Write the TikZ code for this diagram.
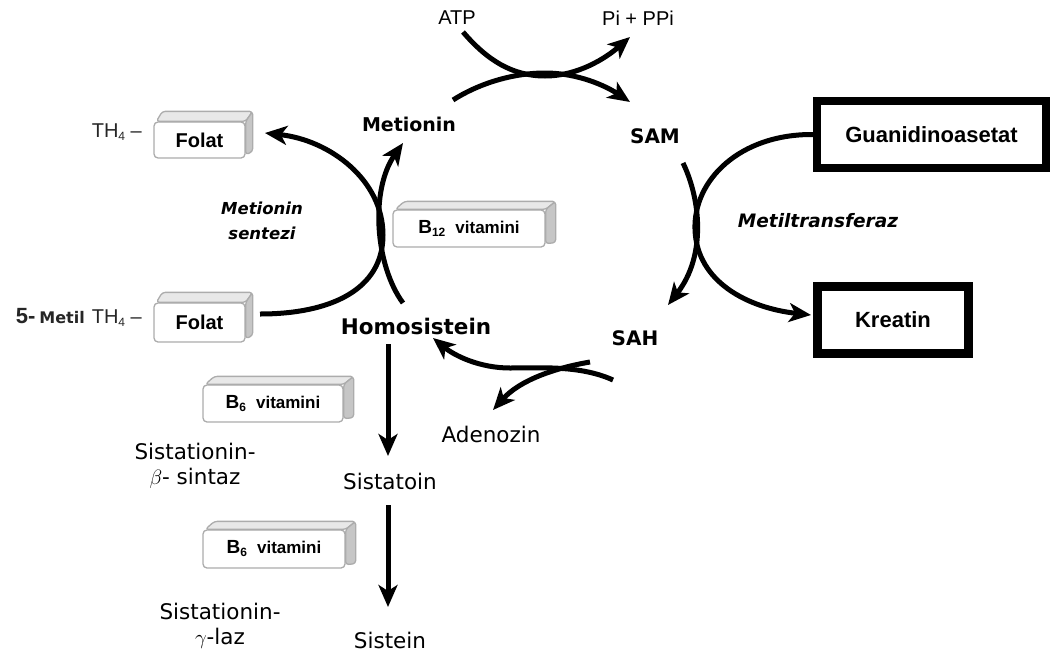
\documentclass[tikz,border=0pt]{standalone}
\usepackage{fontspec}
\setmainfont{DejaVu Sans}
\newfontfamily\ar{Liberation Sans}
\usetikzlibrary{arrows.meta}
\newcommand\subn[1]{\raisebox{-3pt}{\fontsize{12}{12}\selectfont #1}}
\newcommand\boxfaces[3]{%
  \draw[topf] ([xshift=3pt]#1.north west) -- ([shift={(#2+2,-#3)}]#1.north west) -- ([shift={(#2,-#3)}]#1.north east) -- (#1.north east) -- cycle;
  \draw[sidef] (#1.north east) -- ([shift={(#2,-#3)}]#1.north east) -- ([shift={(#2,-#3+3)}]#1.south east) -- ([yshift=4pt]#1.south east) -- cycle;
}
\tikzset{
  arr/.style={line width=5pt, -{Stealth[length=22pt,width=19pt,inset=6pt]}},
  bn/.style={font=\bfseries\fontsize{20}{24}\selectfont, inner sep=2pt},
  rn/.style={font=\fontsize{21.5}{25}\selectfont, inner sep=2pt},
  an/.style={font=\ar\fontsize{20}{24}\selectfont, inner sep=1pt},
  tb/.style={draw, line width=8.5pt, font=\ar\bfseries\fontsize{22}{26}\selectfont, inner sep=0pt},
  fb/.style={draw=gray!65, line width=1.3pt, rounded corners=4pt, fill=white, inner sep=0pt},
  topf/.style={fill=gray!18, draw=gray!65, line width=1.3pt, rounded corners=3pt, line join=round},
  sidef/.style={fill=gray!45, draw=gray!65, line width=1.3pt, rounded corners=3pt, line join=round},
  en/.style={font=\bfseries\itshape\fontsize{16.5}{25}\selectfont, align=center, inner sep=1pt},
}
\begin{document}
\begin{tikzpicture}[x=1pt,y=-1pt]
\useasboundingbox (0,0) rectangle (1051,656);

% labels
\node[an] (atp) at (457,18) {ATP};
\node[an] (pi) at (638,18) {Pi + PPi};
\node[bn, font=\bfseries\fontsize{19}{23}\selectfont] (met) at (409,124) {Metionin};
\node[bn] (sam) at (655,136) {SAM};
\node[bn] (sah) at (635,338) {SAH};
\node[bn, font=\bfseries\fontsize{21.5}{25}\selectfont] (homo) at (416,326) {Homosistein};
\node[rn] (ado) at (491,434) {Adenozin};
\node[rn] (sista) at (390,481) {Sistatoin};
\node[rn] (sis) at (390,640) {Sistein};
\node[rn, align=center] (cbs) at (195,466) {Sistationin-\\$\beta$- sintaz};
\node[rn, align=center] (cgl) at (220,626) {Sistationin-\\$\gamma$-laz};
\node[en] (ms) at (262,221) {Metionin\\sentezi};
\node[en, font=\bfseries\itshape\fontsize{18.5}{22}\selectfont] (mt) at (818,221) {Metiltransferaz};

% TH4 labels
\node[an, anchor=east, text=black!85] (th1) at (143,132) {TH\subn{4}\ –};
\node[an, anchor=east, text=black!85] (th2) at (143,317) {{\bfseries\fontsize{22}{24}\selectfont 5-}\hspace{4pt}{\normalfont\bfseries\fontsize{16}{16}\selectfont Metil}\hspace{7pt}TH\subn{4}\ –};

% thick boxes
\node[tb, minimum width=229pt, minimum height=67pt] (gua) at (931.5,134.5) {Guanidinoasetat};
\node[tb, minimum width=151pt, minimum height=67pt] (kre) at (893,320) {Kreatin};

% 3D boxes
\node[fb, minimum width=91pt, minimum height=36pt, font=\ar\bfseries\fontsize{20}{24}\selectfont] (fol1) at (199.5,140) {Folat};
\boxfaces{fol1}{7}{10}
\node[fb, minimum width=91pt, minimum height=39pt, font=\ar\bfseries\fontsize{20}{24}\selectfont] (fol2) at (199.5,322.5) {Folat};
\boxfaces{fol2}{7}{10}
\node[fb, minimum width=152pt, minimum height=37pt, font=\ar\bfseries\fontsize{19}{22}\selectfont] (b12) at (469,228.5) {B\subn{12}\hspace{10pt}{\fontsize{17}{20}\selectfont vitamini}};
\boxfaces{b12}{10}{8}
\node[fb, minimum width=140pt, minimum height=37pt, font=\ar\bfseries\fontsize{19}{22}\selectfont] (b6a) at (273,403.5) {B\subn{6}\hspace{10pt}{\fontsize{17}{20}\selectfont vitamini}};
\boxfaces{b6a}{10}{8}
\node[fb, minimum width=142pt, minimum height=38pt, font=\ar\bfseries\fontsize{19}{22}\selectfont] (b6b) at (274,549) {B\subn{6}\hspace{10pt}{\fontsize{17}{20}\selectfont vitamini}};
\boxfaces{b6b}{10}{8}

% connector end points
\coordinate (atpS) at (463,32);
\coordinate (piE) at (630,37);
\coordinate (metS) at (453,100);
\coordinate (samE) at (630,102);
\coordinate (homoN) at (403,303);
\coordinate (metArr) at (403,143);
\coordinate (fol2out) at (260,314);
\coordinate (fol1arr) at (265,133);
\coordinate (samS) at (683,163);
\coordinate (sahArr) at (668,305);
\coordinate (kreArr) at (811,315);
\coordinate (sahS) at (613,380);
\coordinate (sahB) at (590,362);
\coordinate (homoArr) at (433,338);
\coordinate (adoArr) at (493,410);
\coordinate (v1a) at (388,344);
\coordinate (v1b) at (388,456);
\coordinate (v2a) at (388,505);
\coordinate (v2b) at (388,607);

% connectors
\draw[arr] (atpS) .. controls (487,60) and (512,76) .. (545,76) .. controls (578,76) and (606,58) .. (piE);
\draw[arr] (metS) .. controls (478,84) and (512,73) .. (545,73) .. controls (578,73) and (606,86) .. (samE);
\draw[arr] (homoN) .. controls (375,265) and (370,190) .. (metArr);
\draw[arr] (fol2out) .. controls (330,314) and (383,290) .. (383,235) .. controls (383,180) and (330,140) .. (fol1arr);
\draw[arr] (samS) .. controls (700,198) and (707,255) .. (sahArr);
\draw[arr] (gua.west) .. controls (740,134) and (693,180) .. (695,230) .. controls (697,282) and (748,308) .. (kreArr);
\draw[arr] (sahS) .. controls (580,365) and (540,368) .. (510,368) .. controls (480,368) and (455,356) .. (homoArr);
\draw[arr] (sahB) .. controls (555,368) and (520,380) .. (adoArr);
\draw[arr] (v1a) -- (v1b);
\draw[arr] (v2a) -- (v2b);
\end{tikzpicture}
\end{document}
